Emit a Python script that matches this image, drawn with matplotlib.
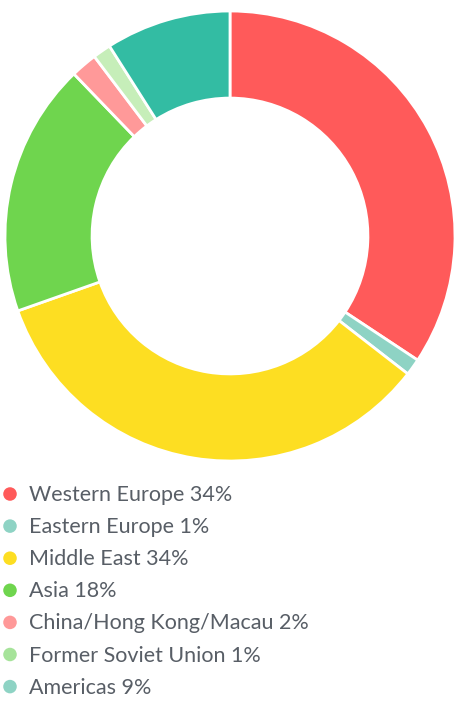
import matplotlib.pyplot as plt

# region shares, and what the legend prints
regions = ['Western Europe', 'Eastern Europe', 'Middle East', 'Asia',
           'China/Hong Kong/Macau', 'Former Soviet Union', 'Americas']
shares = [34.3, 1.2, 34.1, 18.2, 1.9, 1.3, 9.0]
labels = ['34%', '1%', '34%', '18%', '2%', '1%', '9%']
slice_colors = ['#ff5a5a', '#8ed3c4', '#fdde22', '#6fd54e', '#ff9999', '#c6eeb9', '#33bca3']
dot_colors = ['#ff5a5a', '#8ed3c4', '#fdde22', '#6fd54e', '#ff9999', '#a6e39a', '#8ed3c4']

W, H = 462, 709
fig = plt.figure(figsize=(W / 100, H / 100), dpi=100)

# donut
ax = fig.add_axes([5 / W, (H - 461) / H, 450 / W, 450 / H])
ax.pie(shares, colors=slice_colors, startangle=90, counterclock=False, radius=1,
       wedgeprops=dict(width=0.387, edgecolor='white', linewidth=2))
ax.set_xlim(-1.0, 1.0)
ax.set_ylim(-1.0, 1.0)
ax.set_aspect('equal')
ax.axis('off')

# legend drawn in pixel coordinates
lg = fig.add_axes([0, 0, 1, 1])
lg.set_xlim(0, W)
lg.set_ylim(H, 0)
lg.axis('off')
y0, step = 494, 32.1
for i, (name, pct) in enumerate(zip(regions, labels)):
    y = y0 + i * step
    lg.scatter([10], [y], s=95, color=dot_colors[i], edgecolor='none')
    lg.text(29, y + 1, f'{name} {pct}', fontsize=15.5, family='Lato',
            color='#585e66', va='center', ha='left')

fig.savefig('out.png', dpi=100)
